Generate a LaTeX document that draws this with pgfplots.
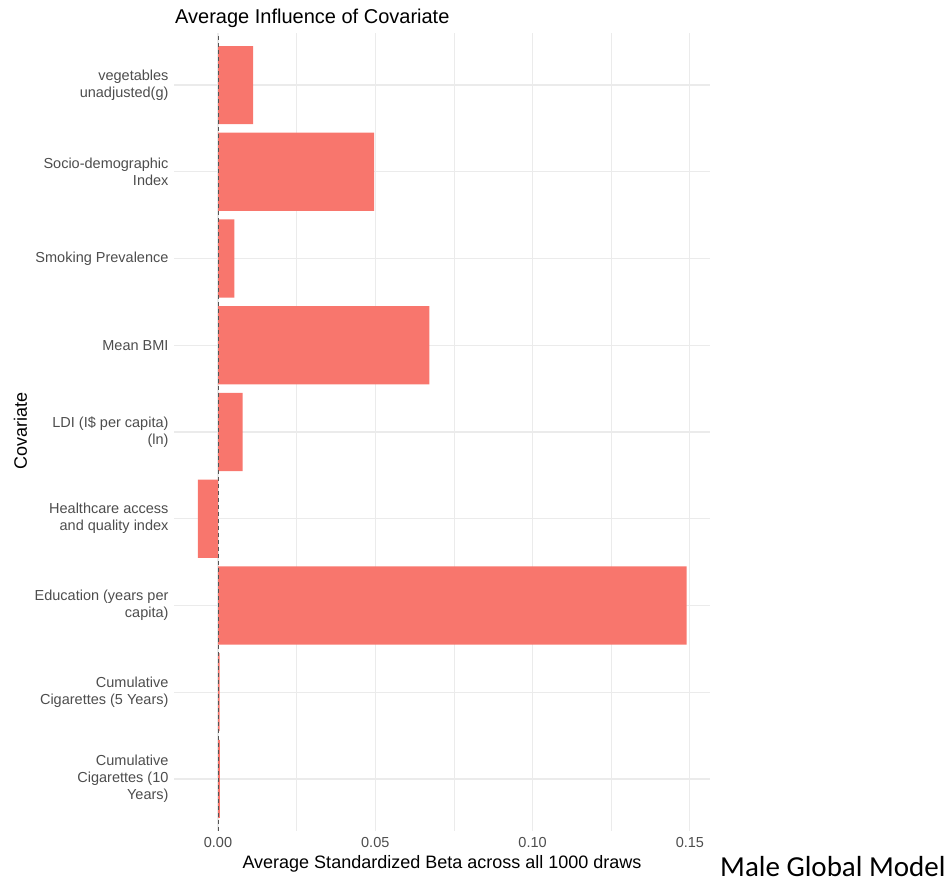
\documentclass[border=0pt]{standalone}
\usepackage{fontspec}
\setmainfont{Liberation Sans}
\newfontfamily\carlito{Carlito}
\usepackage{pgfplots}
\pgfplotsset{compat=1.18}
\definecolor{barred}{HTML}{F8766D}
\definecolor{gridc}{HTML}{EBEBEB}
\definecolor{tickc}{HTML}{4D4D4D}
\definecolor{zeroc}{HTML}{555555}
\begin{document}
\begin{tikzpicture}[x=1pt,y=1pt]
\path[use as bounding box] (0,0) rectangle (948,888);
\begin{axis}[
  at={(174pt,57pt)}, anchor=south west,
  width=536pt, height=798pt, scale only axis,
  xmin=-0.01399, xmax=0.1564, ymin=0.4, ymax=9.6,
  axis line style={draw=none},
  major tick length=0pt, minor tick length=0pt,
  tick style={draw=none},
  xtick={0,0.05,0.1,0.15},
  xticklabels={0.00,0.05,0.10,0.15},
  minor xtick={0.025,0.075,0.125},
  ytick={1,2,3,4,5,6,7,8,9},
  yticklabels={{Cumulative\\Cigarettes (10\\Years)},{Cumulative\\Cigarettes (5 Years)},{Education (years per\\capita)},{Healthcare access\\and quality index},{LDI (I\$ per capita)\\(ln)},{Mean BMI},{Smoking Prevalence},{Socio-demographic\\Index},{vegetables\\unadjusted(g)}},
  xmajorgrids, ymajorgrids, xminorgrids,
  major grid style={gridc, line width=1.1pt},
  minor grid style={gridc, line width=0.55pt},
  /pgf/number format/assume math mode=true,
  xticklabel style={font=\fontsize{14.5}{17}\selectfont, text=tickc, yshift=-3pt},
  yticklabel style={font=\fontsize{14.5}{17}\selectfont, text=tickc, align=right, xshift=-2pt},
  clip=false,
]
\addplot[xbar, fill=barred, draw=none, bar width=0.9] coordinates {
  (0.0006,1)
  (0.0005,2)
  (0.1490,3)
  (-0.0064,4)
  (0.0078,5)
  (0.0672,6)
  (0.0052,7)
  (0.0496,8)
  (0.0112,9)
};
\addplot[zeroc, line width=1pt, dash pattern=on 4pt off 3pt] coordinates {(0,0.4) (0,9.6)};
\end{axis}
\node[anchor=base west, font=\fontsize{20}{24}\selectfont, inner sep=0pt] at (175,864) {Average Influence of Covariate};
\node[anchor=base, font=\fontsize{18}{22}\selectfont, inner sep=0pt] at (442,19) {Average Standardized Beta across all 1000 draws};
\node[anchor=base, rotate=90, font=\fontsize{18}{22}\selectfont, inner sep=0pt] at (27,457) {Covariate};
\node[anchor=base west, font=\carlito\fontsize{29}{34}\selectfont, inner sep=0pt] at (720,11) {Male Global Model};
\end{tikzpicture}
\end{document}
